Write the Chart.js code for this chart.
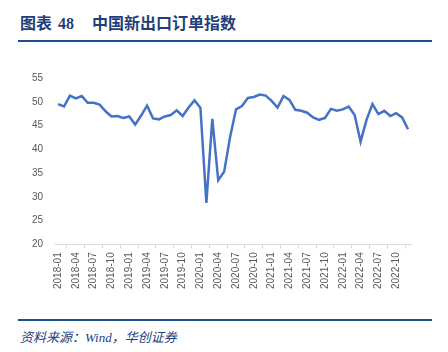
<!DOCTYPE html>
<html>
<head>
<meta charset="utf-8">
<script src="https://cdn.jsdelivr.net/npm/chart.js@4/dist/chart.umd.min.js"></script>
<style>
  html, body { margin: 0; padding: 0; background: #fff; }
  body { width: 448px; height: 352px; position: relative; overflow: hidden; }
  .title {
    position: absolute; left: 20px; top: 10px;
    font: bold 16px "Liberation Serif", "Noto Sans CJK SC", serif;
    color: #1f3f7a; white-space: nowrap;
  }
  .title .num { margin-left: 6px; margin-right: 18px; }
  .rule { position: absolute; left: 18px; width: 414px; height: 2px; background: #1f4e8c; }
  .source {
    position: absolute; left: 20px; top: 327px;
    font: italic 13px "Liberation Serif", "Noto Sans CJK SC", serif;
    color: #1f3f7a; white-space: nowrap;
  }
  #wrap { position: absolute; left: 0; top: 60px; width: 448px; height: 240px; }
</style>
</head>
<body>
<div class="title">图表<span class="num">48</span>中国新出口订单指数</div>
<div class="rule" style="top:40px"></div>
<div id="wrap"><canvas id="chart"></canvas></div>
<div class="rule" style="top:319px"></div>
<div class="source">资料来源：Wind，华创证券</div>

<script>
// ── new export orders index, monthly 2018-01 .. 2022-12 ────────────

const years  = ['2018', '2019', '2020', '2021', '2022'];
const months = ['01','02','03','04','05','06','07','08','09','10','11','12'];
const labels = years.flatMap(y => months.map(m => `${y}-${m}`));

const exportOrders = [
  49.5, 49.0, 51.3, 50.7, 51.2, 49.8, 49.8, 49.4, 48.0, 46.9, 47.0, 46.6,
  46.9, 45.2, 47.1, 49.2, 46.5, 46.3, 46.9, 47.2, 48.2, 47.0, 48.8, 50.3,
  48.7, 28.7, 46.4, 33.5, 35.3, 42.6, 48.4, 49.1, 50.8, 51.0, 51.5, 51.3,
  50.2, 48.8, 51.2, 50.4, 48.3, 48.1, 47.7, 46.7, 46.2, 46.6, 48.5, 48.1,
  48.4, 49.0, 47.2, 41.6, 46.2, 49.5, 47.4, 48.1, 47.0, 47.6, 46.7, 44.2,
];

const yTicks = [20, 25, 30, 35, 40, 45, 50, 55];

new Chart(document.getElementById('chart'), {
  type: 'line',
  data: {
    labels,
    datasets: [{
      data: exportOrders,
      borderColor: '#4472c4',
      borderWidth: 2.5,
      pointRadius: 0,
      tension: 0,
    }],
  },
  options: {
    responsive: true,
    maintainAspectRatio: false,
    animation: false,
    layout: { padding: { left: 28, right: 37, top: 18, bottom: 7 } },
    plugins: { legend: { display: false }, tooltip: { enabled: false } },
    scales: {
      x: {
        offset: true,
        border: { color: '#d9d9d9' },
        grid: { display: true, offset: true, drawOnChartArea: false, tickLength: 4, color: '#d9d9d9' },
        ticks: {
          autoSkip: false,
          maxRotation: 90, minRotation: 90,
          color: '#595959',
          font: { family: 'Liberation Sans', size: 10 },
          padding: 4,
          callback: (v, i) => (i % 3 === 0 ? labels[i] : null),
        },
      },
      y: {
        min: 20, max: 55,
        border: { display: false },
        grid: { display: false },
        afterBuildTicks: axis => { axis.ticks = yTicks.map(v => ({ value: v })); },
        ticks: {
          color: '#595959',
          font: { family: 'Liberation Sans', size: 10 },
          padding: 4,
        },
      },
    },
  },
});
</script>
</body>
</html>
